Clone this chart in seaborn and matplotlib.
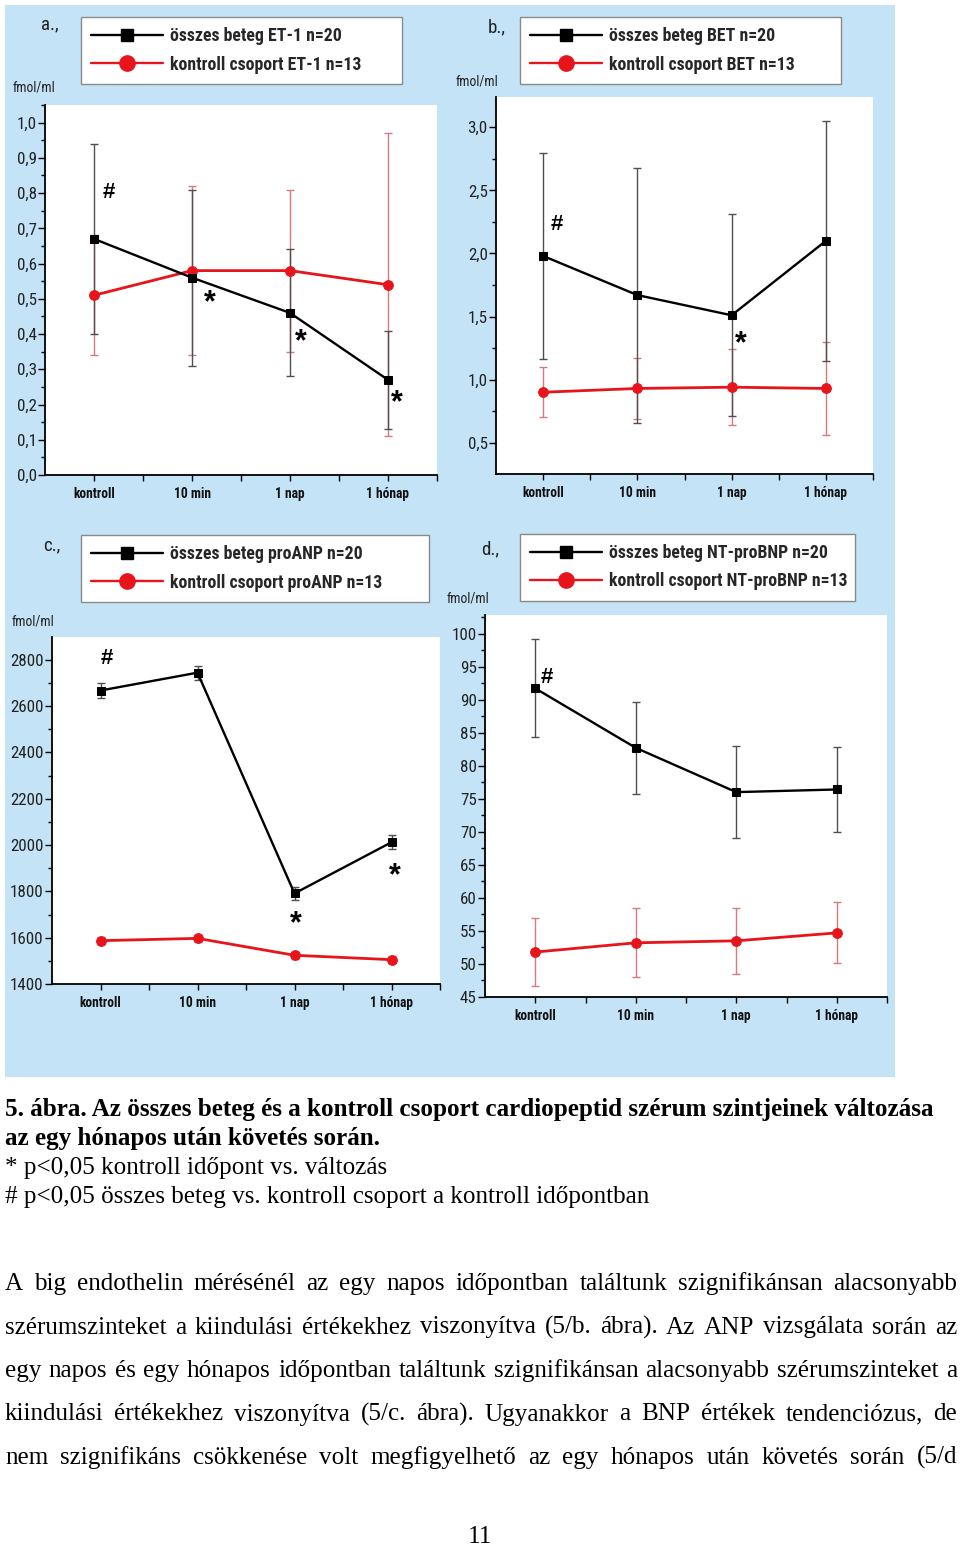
import numpy as np
import pandas as pd
import matplotlib
matplotlib.use("Agg")
import matplotlib.pyplot as plt
import seaborn as sns
from matplotlib import font_manager as fm
from matplotlib.font_manager import FontProperties
from matplotlib.lines import Line2D
from matplotlib.patches import Rectangle
from matplotlib.ticker import MultipleLocator, FixedLocator, FuncFormatter
from matplotlib.transforms import offset_copy

# ---------------- data ----------------
times = ["kontroll", "10 min", "1 nap", "1 hónap"]

a_patient = [0.67, 0.56, 0.46, 0.27]
a_patient_err = [0.27, 0.25, 0.18, 0.14]
a_control = [0.51, 0.58, 0.58, 0.54]
a_control_err = [0.17, 0.24, 0.23, 0.43]

b_patient = [1.98, 1.67, 1.51, 2.10]
b_patient_err = [0.82, 1.01, 0.80, 0.95]
b_control = [0.90, 0.93, 0.94, 0.93]
b_control_err = [0.20, 0.245, 0.30, 0.37]

c_patient = [2667, 2744, 1791, 2012]
c_patient_err = [33, 30, 27, 30]
c_control = [1587, 1597, 1524, 1505]
c_control_err = [15, 14, 15, 15]

d_patient = [91.7, 82.7, 76.0, 76.4]
d_patient_err = [7.4, 7.0, 7.0, 6.5]
d_control = [51.8, 53.2, 53.5, 54.7]
d_control_err = [5.1, 5.2, 5.0, 4.6]

a_labels = ["összes beteg ET-1 n=20", "kontroll csoport ET-1 n=13"]
b_labels = ["összes beteg BET n=20", "kontroll csoport BET n=13"]
c_labels = ["összes beteg proANP n=20", "kontroll csoport proANP n=13"]
d_labels = ["összes beteg NT-proBNP n=20", "kontroll csoport NT-proBNP n=13"]

a_marks = [("#", 0.15, 0.81), ("*", 1.18, 0.515), ("*", 2.11, 0.405), ("*", 3.09, 0.23)]
b_marks = [("#", 0.15, 2.25), ("*", 2.10, 1.36)]
c_marks = [("#", 0.06, 2818), ("*", 2.01, 1702), ("*", 3.03, 1907)]
d_marks = [("#", 0.12, 93.7)]

caption_lines = [
    "5. ábra. Az összes beteg és a kontroll csoport cardiopeptid szérum szintjeinek változása",
    "az egy hónapos után követés során.",
    "* p<0,05 kontroll időpont vs. változás",
    "# p<0,05 összes beteg vs. kontroll csoport a kontroll időpontban",
]
paragraph_lines = [
    "A big endothelin mérésénél az egy napos időpontban találtunk szignifikánsan alacsonyabb",
    "szérumszinteket a kiindulási értékekhez viszonyítva (5/b. ábra). Az ANP vizsgálata során az",
    "egy napos és egy hónapos időpontban találtunk szignifikánsan alacsonyabb szérumszinteket a",
    "kiindulási értékekhez viszonyítva (5/c. ábra). Ugyanakkor a BNP értékek tendenciózus, de",
    "nem szignifikáns csökkenése volt megfigyelhető az egy hónapos után követés során (5/d",
]
page_number = "11"

# ---------------- style ----------------
sns.set_theme(style="white")
names = {f.name for f in fm.fontManager.ttflist}
COND = next((n for n in ["Roboto Condensed", "Liberation Sans Narrow", "Open Sans Condensed",
                         "DejaVu Sans Condensed", "Roboto", "DejaVu Sans"] if n in names), "DejaVu Sans")
plt.rcParams["font.family"] = [COND, "DejaVu Sans"]
SERIF = "Liberation Serif" if "Liberation Serif" in names else "DejaVu Serif"
SANS = "Liberation Sans" if "Liberation Sans" in names else "DejaVu Sans"

BLUE = "#c4e3f7"
RED = "#e8141c"
RED_ERR = "#d77a7c"
BLK_ERR = "#505050"

W, H, DPI = 960, 1545, 100
fig = plt.figure(figsize=(W / DPI, H / DPI), dpi=DPI)
fig.patch.set_facecolor("white")
renderer = fig.canvas.get_renderer()


def fp(family, weight="normal", size=10, stretch="normal"):
    return FontProperties(family=[family, "DejaVu Sans"], weight=weight, size=size, stretch=stretch)


def text_w(s, prop):
    w, h, d = renderer.get_text_width_height_descent(s, prop, ismath=False)
    return w


def fit_size(s, prop, target):
    p = prop.copy()
    p.set_size(10)
    return 10.0 * target / text_w(s, p)


def fx(x):
    return x / W


def fy(y):
    return 1 - y / H


fig.add_artist(Rectangle((fx(5), fy(1077)), 890 / W, 1072 / H, transform=fig.transFigure,
                         facecolor=BLUE, edgecolor="none", zorder=-5))

comma = FuncFormatter(lambda v, p: f"{v:.1f}".replace(".", ","))
intfmt = FuncFormatter(lambda v, p: f"{v:.0f}")

# leg = box (left, top, right, bottom) in px
panels = [
    dict(rect=(45, 105, 437, 475), ylim=(0, 1.05), major=0.1, minor=0.05, fmt=comma,
         pat=a_patient, pat_err=a_patient_err, con=a_control, con_err=a_control_err,
         labels=a_labels, marks=a_marks, leg=(81, 17, 402, 83),
         tag=("a.,", 50, 24), unit=(34, 87)),
    dict(rect=(496, 97, 873, 474), ylim=(0.252, 3.24), major=0.5, minor=0.25, fmt=comma,
         pat=b_patient, pat_err=b_patient_err, con=b_control, con_err=b_control_err,
         labels=b_labels, marks=b_marks, leg=(520, 17, 841, 83),
         tag=("b.,", 497, 27), unit=(477, 81)),
    dict(rect=(52, 637, 440, 984), ylim=(1400, 2898), major=200, minor=100, fmt=intfmt,
         pat=c_patient, pat_err=c_patient_err, con=c_control, con_err=c_control_err,
         labels=c_labels, marks=c_marks, leg=(81, 535, 429, 601),
         tag=("c.,", 52, 545), unit=(33, 621)),
    dict(rect=(485, 615, 887, 997), ylim=(45, 102.8), major=5, minor=2.5, fmt=intfmt,
         pat=d_patient, pat_err=d_patient_err, con=d_control, con_err=d_control_err,
         labels=d_labels, marks=d_marks, leg=(520, 534, 855, 601),
         tag=("d.,", 490, 549), unit=(468, 598)),
]

# font sizes fitted to the reference
xt_prop = fp(COND, "bold", stretch="condensed")
xt_prop.set_size(fit_size("kontroll", xt_prop, 42))
yt_prop = fp(COND, "normal", stretch="condensed")
yt_prop.set_size(fit_size("0,9", yt_prop, 20))
unit_prop = fp(COND, "normal", stretch="condensed")
unit_prop.set_size(fit_size("fmol/ml", unit_prop, 43))
lab_prop = fp(COND, "normal", stretch="condensed")
lab_prop.set_size(fit_size("d.,", lab_prop, 18))

leg_prop = fp(COND, "bold", stretch="condensed")
leg_size = min(fit_size(P["labels"][1], leg_prop, P["leg"][2] - (P["leg"][0] + 88) - 9) for P in panels)
leg_prop.set_size(leg_size)
em = leg_size * DPI / 72.0

xs = np.arange(len(times))
for P in panels:
    l, t, r, b = P["rect"]
    ax = fig.add_axes([fx(l), fy(b), (r - l) / W, (b - t) / H])
    ax.set_facecolor("white")

    ax.errorbar(xs, P["con"], yerr=P["con_err"], fmt="none", ecolor=RED_ERR, elinewidth=1.0,
                capsize=3, capthick=1.0, zorder=2)
    ax.errorbar(xs, P["pat"], yerr=P["pat_err"], fmt="none", ecolor=BLK_ERR, elinewidth=1.0,
                capsize=3, capthick=1.0, zorder=2)
    dfp = pd.DataFrame({"t": xs, "v": P["pat"]})
    dfc = pd.DataFrame({"t": xs, "v": P["con"]})
    sns.lineplot(data=dfc, x="t", y="v", ax=ax, color=RED, linewidth=2.0, marker="o",
                 markersize=7, markeredgecolor=RED, zorder=3)
    sns.lineplot(data=dfp, x="t", y="v", ax=ax, color="black", linewidth=1.7, marker="s",
                 markersize=5.5, markeredgecolor="black", zorder=4)

    ax.set_xlim(-0.5, 3.5)
    ax.set_ylim(*P["ylim"])
    ax.set_xlabel("")
    ax.set_ylabel("")
    ax.set_xticks(xs)
    ax.set_xticklabels(times)
    ax.xaxis.set_minor_locator(FixedLocator([0.5, 1.5, 2.5, 3.5]))
    ax.yaxis.set_major_locator(MultipleLocator(P["major"]))
    ax.yaxis.set_minor_locator(MultipleLocator(P["minor"]))
    ax.yaxis.set_major_formatter(P["fmt"])
    for s in ["top", "right"]:
        ax.spines[s].set_visible(False)
    for s in ["left", "bottom"]:
        ax.spines[s].set_color("black")
        ax.spines[s].set_linewidth(1.3)
    ax.tick_params(axis="x", which="both", bottom=True, direction="out", length=4.5, width=1,
                   color="black", pad=4)
    ax.tick_params(axis="y", which="major", left=True, direction="out", length=5, width=1,
                   color="black", pad=1)
    ax.tick_params(axis="y", which="minor", left=True, direction="out", length=3, width=1,
                   color="black")
    for lab in ax.get_xticklabels():
        lab.set_fontproperties(xt_prop)
        lab.set_color("#111111")
    for lab in ax.get_yticklabels():
        lab.set_fontproperties(yt_prop)
        lab.set_color("#222222")
    if ax.get_legend() is not None:
        ax.get_legend().remove()

    for sym, mx, my in P["marks"]:
        size = 16 if sym == "#" else 22
        shift = 0.36 if sym == "#" else 0.58
        tr = offset_copy(ax.transData, fig=fig, y=-shift * size, units="points")
        ax.text(mx, my, sym, transform=tr, ha="center", va="baseline", fontsize=size,
                fontweight="bold", family=[SANS, "DejaVu Sans"], color="black", zorder=6)

    # legend
    L, T, R, B = P["leg"]
    handles = [Line2D([], [], color="black", linewidth=1.7, marker="s", markersize=9),
               Line2D([], [], color=RED, linewidth=1.7, marker="o", markersize=11)]
    fig.legend(handles=handles, labels=P["labels"], loc="upper left",
               bbox_to_anchor=(fx(L), fy(T), (R - L) / W, 0), bbox_transform=fig.transFigure,
               mode="expand", frameon=True, fancybox=False, edgecolor="#8a8a8a", framealpha=1,
               facecolor="white", borderpad=10.0 / em, labelspacing=10.5 / em,
               handlelength=72.0 / em, handletextpad=7.0 / em, borderaxespad=0, prop=leg_prop)

    tag, tx, ty = P["tag"]
    fig.text(fx(tx), fy(ty), tag, ha="center", va="center", fontproperties=lab_prop, color="#222222")
    ux, uy = P["unit"]
    fig.text(fx(ux), fy(uy), "fmol/ml", ha="center", va="center", fontproperties=unit_prop,
             color="#222222")

# ---------------- caption ----------------
cap_bold = fp(SERIF, "bold")
cap_size = fit_size(caption_lines[0], cap_bold, 932)
cap_bold.set_size(cap_size)
cap_reg = fp(SERIF, "normal", size=cap_size)
cap_base = [1116, 1145, 1174, 1203]
for i, (line, yb) in enumerate(zip(caption_lines, cap_base)):
    fig.text(fx(5), fy(yb), line, ha="left", va="baseline",
             fontproperties=cap_bold if i < 2 else cap_reg, color="black")

# ---------------- justified paragraph ----------------
par_prop = fp(SERIF, "normal", size=10)
widest = max(text_w(s, par_prop) for s in paragraph_lines)
par_size = 10.0 * 945 / widest
par_prop.set_size(par_size)
par_base = [1290, 1333.5, 1377, 1420.5, 1464]
left_x, right_x = 5, 957
for line, yb in zip(paragraph_lines, par_base):
    words = line.split(" ")
    widths = [text_w(wd, par_prop) for wd in words]
    gap = (right_x - left_x - sum(widths)) / (len(words) - 1)
    x = left_x
    for wd, wdt in zip(words, widths):
        fig.text(fx(x), fy(yb), wd, ha="left", va="baseline", fontproperties=par_prop, color="black")
        x += wdt + gap

fig.text(fx(480), fy(1543), page_number, ha="center", va="baseline",
         fontproperties=fp(SERIF, "normal", size=par_size), color="black")

fig.savefig("out.png", dpi=DPI, facecolor="white")
